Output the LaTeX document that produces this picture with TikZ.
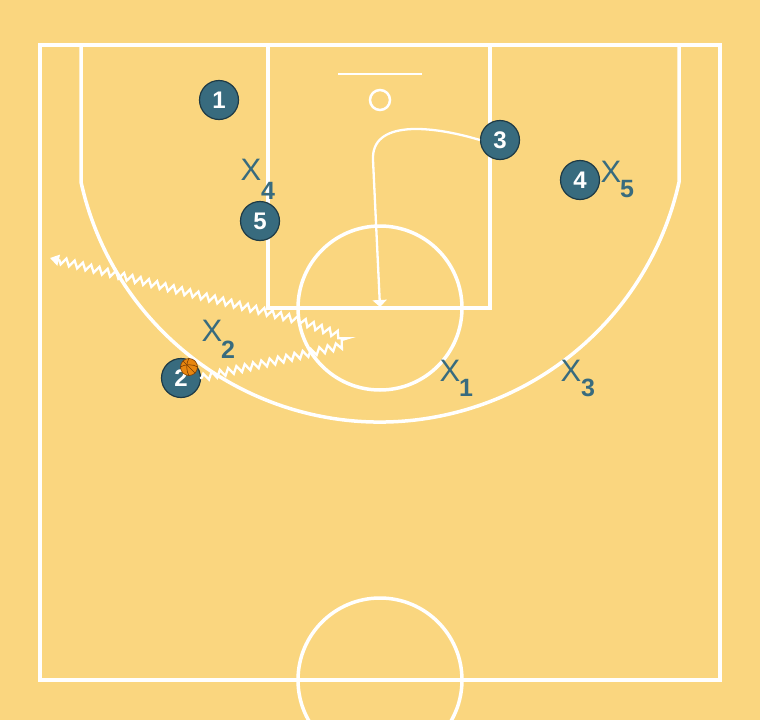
\documentclass[tikz,border=0pt]{standalone}
\usepackage{fontspec}
\setmainfont{Liberation Sans}
\usetikzlibrary{arrows.meta,decorations.pathmorphing}
\definecolor{courtbg}{HTML}{FAD67F}
\definecolor{teal}{HTML}{386B7E}
\definecolor{tealdark}{HTML}{1E3A45}
\definecolor{ballorange}{HTML}{E8860F}
\definecolor{balldark}{HTML}{7A3E05}
\tikzset{
  courtline/.style={draw=white,line width=3.5pt},
  player/.style={circle,fill=teal,draw=tealdark,line width=1.2pt,minimum size=39pt,inner sep=0pt,
    text=white,font=\fontsize{24}{24}\selectfont\bfseries},
  defx/.style={inner sep=0pt,text=teal,font=\fontsize{31}{31}\selectfont},
  defsub/.style={inner sep=0pt,text=teal,font=\fontsize{25}{25}\selectfont\bfseries},
  cutline/.style={draw=white,line width=2.3pt,-{Triangle[width=14pt,length=7pt]}},
  dribble/.style={draw=white,line width=2.3pt,
    decorate,decoration={zigzag,segment length=8.5pt,amplitude=3.5pt,pre length=2pt,post=lineto,post length=8pt},
    -{Triangle[width=11pt,length=9pt]}},
}
\begin{document}
\begin{tikzpicture}[x=1pt,y=-1pt]
\useasboundingbox (0,0) rectangle (760,720);
\fill[courtbg] (0,0) rectangle (760,720);
% court
\draw[courtline] (40,45) rectangle (720,680);
\draw[courtline] (268,45) -- (268,308) -- (490,308) -- (490,45);
\draw[courtline] (380,308) circle[radius=82];
\draw[courtline] (380,680) circle[radius=82];
\draw[white,line width=2.5pt] (338,74) -- (422,74);
\draw[white,line width=2.5pt] (380,100) circle[radius=10];
\draw[courtline] (81,45) -- (81,182) arc[start angle=167.5,end angle=12.5,radius=306.3] -- (679,45);
% players
\node[player] (p1) at (219,100) {1};
\node[player] (p3) at (500,140) {3};
\node[player] (p4) at (580,180) {4};
\node[player] (p5) at (260,221) {5};
\node[player] (p2) at (181,378) {2};
% ball
\node[circle,fill=ballorange,draw=balldark,line width=0.6pt,minimum size=17pt,inner sep=0pt] (ball) at (189,367) {};
\draw[balldark,line width=0.6pt] (ball.north) .. controls (186,363) and (186,371) .. (ball.south);
\draw[balldark,line width=0.6pt] (ball.west) .. controls (185,364) and (193,364) .. (ball.east);
\draw[balldark,line width=0.6pt] (183,361) .. controls (188,366) and (190,368) .. (195,373);
% defenders
\node[defx] (x4) at (251,170) {X}; \node[defsub] (x4s) at (268,191) {4};
\node[defx] (x5) at (611,172) {X}; \node[defsub] (x5s) at (627,189) {5};
\node[defx] (x2) at (212,331) {X}; \node[defsub] (x2s) at (228,350) {2};
\node[defx] (x1) at (450,371) {X}; \node[defsub] (x1s) at (466,388) {1};
\node[defx] (x3) at (571,371) {X}; \node[defsub] (x3s) at (588,388) {3};
% cut of 3
\coordinate (c3a) at (373,160);
\coordinate (c3end) at (380,307);
\draw[cutline] (p3.west) .. controls (430,125) and (371,120) .. (c3a) -- (c3end);
% dribble of 2
\coordinate (d0) at (200,378);
\coordinate (d1) at (336,347);
\coordinate (d2) at (298,320);
\coordinate (dend) at (50,258);
\draw[dribble] (d0) -- (d1) .. controls (347,344) and (347,337) .. (336,334) -- (d2) -- (dend);
\end{tikzpicture}
\end{document}
